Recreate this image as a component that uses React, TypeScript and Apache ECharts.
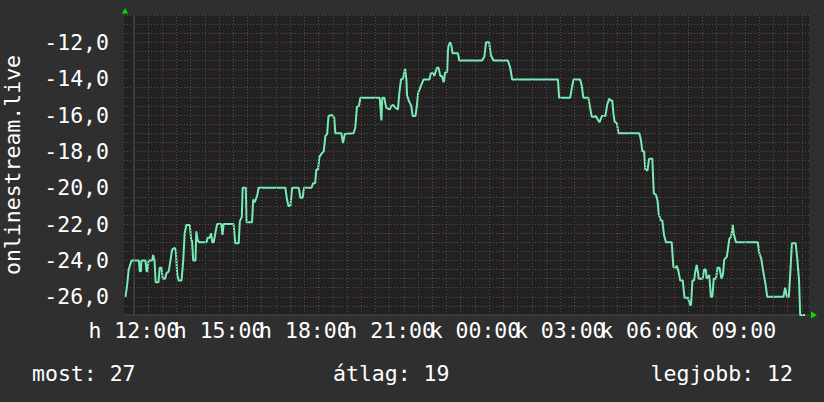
import React, { useEffect, useRef } from "react";
import * as echarts from "echarts";

// time in hours after 12:00 (day "h"), value
const points: [number, number][] = [
  [-0.29, -26], [-0.23, -25.3], [-0.18, -24.5], [-0.08, -24], [0.18, -24], [0.21, -24.6], [0.25, -24.6], [0.27, -24],
  [0.41, -24], [0.45, -24.6], [0.48, -24.6], [0.52, -24], [0.65, -24], [0.68, -23.7], [0.73, -24], [0.77, -25.2],
  [0.87, -25.2], [0.91, -24.4], [0.97, -24.4], [1.02, -25], [1.1, -25], [1.15, -24.7], [1.23, -24.6], [1.29, -24],
  [1.35, -23.4], [1.44, -23.3], [1.48, -23.5], [1.53, -24.8], [1.58, -25.1], [1.68, -25.1], [1.74, -24], [1.79, -22.5],
  [1.85, -22.05], [1.97, -22.05], [2.02, -22.9], [2.05, -22.9], [2.09, -24], [2.17, -24], [2.2, -22.4], [2.25, -22.9],
  [2.3, -23], [2.56, -23], [2.6, -22.75], [2.67, -22.75], [2.72, -22.5], [2.76, -23], [2.81, -23], [2.87, -22.5],
  [2.93, -22], [3.08, -22], [3.12, -22.6], [3.16, -22], [3.51, -22], [3.57, -23.05], [3.69, -23.05], [3.73, -21.85],
  [3.8, -21.6], [3.83, -20], [3.94, -20], [3.97, -21.9], [4.16, -21.9], [4.2, -20.65], [4.25, -20.8], [4.34, -20.45],
  [4.39, -20], [5.33, -20], [5.39, -20.65], [5.44, -21], [5.51, -21], [5.57, -20], [5.8, -20], [5.86, -20.55],
  [5.94, -20.55], [5.99, -20], [6.25, -20], [6.31, -19.75], [6.38, -19.75], [6.42, -19], [6.48, -19], [6.53, -18.3],
  [6.62, -18.1], [6.68, -18], [6.74, -17.15], [6.8, -17.05], [6.85, -16.05], [6.97, -16], [7.05, -16.15], [7.09, -17],
  [7.3, -17], [7.36, -17.55], [7.42, -17.05], [7.73, -17], [7.79, -16.7], [7.85, -15.55], [7.92, -15.5], [7.97, -15.05],
  [8.65, -15.05], [8.71, -16.3], [8.74, -15.05], [8.81, -15.05], [8.88, -15.6], [9.0, -15.7], [9.06, -15.5], [9.13, -15.45],
  [9.2, -15.6], [9.29, -15.7], [9.34, -14.8], [9.4, -14.05], [9.47, -14], [9.54, -13.45], [9.59, -14.05], [9.61, -14.9],
  [9.67, -15.2], [9.76, -15.5], [9.81, -16.05], [9.91, -16.05], [9.96, -15.45], [10.0, -14.8], [10.05, -14.6], [10.1, -14.4],
  [10.19, -14.05], [10.4, -14.05], [10.45, -13.7], [10.52, -13.7], [10.57, -13.85], [10.62, -13.6], [10.66, -13.4], [10.72, -13.4],
  [10.78, -13.85], [10.84, -13.85], [10.9, -14.2], [10.95, -13.65], [11.02, -13.65], [11.05, -12.5], [11.07, -12.2], [11.13, -12],
  [11.18, -12.25], [11.21, -12.6], [11.4, -12.6], [11.45, -13], [12.25, -13], [12.33, -12.8], [12.39, -12], [12.5, -12],
  [12.56, -12.7], [12.65, -13], [13.16, -13], [13.24, -13.4], [13.31, -14.05], [14.92, -14.05], [14.96, -15.05], [15.35, -15.05],
  [15.42, -14.4], [15.47, -14.05], [15.7, -14.05], [15.76, -14.4], [15.81, -15.05], [15.99, -15.05], [16.05, -15.6], [16.11, -16.1],
  [16.2, -16.1], [16.25, -16.05], [16.32, -16.25], [16.38, -16.4], [16.43, -16.2], [16.47, -16.05], [16.59, -16.05], [16.65, -15.45],
  [16.72, -15.1], [16.76, -15.2], [16.83, -15.2], [16.87, -15.9], [16.91, -16.35], [16.99, -16.45], [17.05, -17], [17.78, -17],
  [17.83, -17.3], [17.89, -18], [17.95, -18], [17.99, -19], [18.07, -19.05], [18.12, -18.45], [18.14, -18.4], [18.24, -18.4],
  [18.29, -20.3], [18.37, -20.4], [18.42, -20.7], [18.47, -21.5], [18.54, -21.8], [18.59, -21.8], [18.65, -22.6], [18.72, -23],
  [18.92, -23], [18.98, -24.35], [19.04, -24.4], [19.1, -24.3], [19.16, -24.6], [19.22, -25.1], [19.31, -25.1], [19.37, -26.05],
  [19.49, -26.05], [19.57, -26.45], [19.6, -26.45], [19.65, -25.1], [19.71, -25.1], [19.74, -24.7], [19.8, -24.25], [19.85, -24.7],
  [19.87, -25], [20.01, -25], [20.06, -24.5], [20.12, -24.5], [20.15, -25], [20.24, -24.8], [20.3, -26], [20.35, -26],
  [20.4, -25], [20.48, -25], [20.53, -24.4], [20.6, -24.4], [20.67, -25], [20.72, -24.8], [20.77, -23.95], [20.86, -23.8],
  [20.95, -22.8], [21.01, -22.7], [21.07, -22.05], [21.1, -22.5], [21.18, -23], [21.95, -23], [22.0, -23.6], [22.07, -23.9],
  [22.14, -24.6], [22.23, -25.4], [22.28, -26], [22.85, -26], [22.91, -25.5], [22.97, -26], [23.04, -26], [23.08, -25],
  [23.15, -23.05], [23.28, -23.05], [23.34, -23.95], [23.4, -25.1], [23.44, -27], [23.61, -27],
];

const yTickLabels = [-26, -24, -22, -20, -18, -16, -14, -12];
const xLabelHoursA = [0, 6, 12, 18];
const xLabelHoursB = [3, 9, 15, 21];
const dayNames = ["h", "k"];
const footerLabels = ["most", "átlag", "legjobb"];
const footerValues = [27, 19, 12];
const axisName = "onlinestream.live";

const X_MIN = -0.344;
const X_MAX = 23.75;
const Y_MIN = -27;
const Y_MAX = -10.5;

const FONT = "DejaVu Sans Mono";
const FS = 21.5;
const GRID_MINOR = "#505050";
const GRID_MAJOR = "#733b3b";

export default function App() {
  const ref = useRef<HTMLDivElement>(null);

  useEffect(() => {
    if (!ref.current) return;
    const chart = echarts.init(ref.current, null, { renderer: "svg" });

    const xMinor: number[] = [];
    const xMajor: number[] = [];
    for (let k = 0; k * 0.5 <= X_MAX; k++) {
      if (k % 2 === 0) xMajor.push(k * 0.5);
      else xMinor.push(k * 0.5);
    }
    const yMinor: number[] = [];
    for (let k = 0; Y_MIN + k * 0.5 <= Y_MAX; k++) {
      const v = Y_MIN + k * 0.5;
      if (!yTickLabels.includes(v)) yMinor.push(v);
    }

    const hourLabel = (v: number) => {
      const h = Math.round(v);
      const day = dayNames[Math.floor((12 + h) / 24)];
      const hh = String((12 + h) % 24).padStart(2, "0");
      return `${day} ${hh}:00`;
    };

    const dotted = [1, 2];

    const vLines = (vals: number[], color: string) =>
      vals.map((v) => ({ xAxis: v, lineStyle: { color, type: dotted, width: 1 } }));

    const labelAxis = (vals: number[]) => ({
      type: "value",
      min: X_MIN,
      max: X_MAX,
      position: "bottom",
      axisLine: { show: false },
      axisTick: { show: false },
      axisLabel: {
        show: true,
        customValues: vals,
        showMinLabel: true,
        showMaxLabel: true,
        hideOverlap: false,
        formatter: hourLabel,
        color: "#ffffff",
        fontFamily: FONT,
        fontSize: FS,
        margin: 15,
        verticalAlign: "middle",
      },
      splitLine: { show: false },
    });

    chart.setOption({
      animation: false,
      backgroundColor: "#2f2f2f",
      textStyle: { fontFamily: FONT },
      grid: {
        left: 124,
        top: 15,
        right: 15,
        bottom: 87,
        containLabel: false,
        outerBoundsMode: "none",
        show: true,
        z: -1,
        backgroundColor: "#212121",
        borderWidth: 0,
      },
      xAxis: [
        {
          type: "value",
          min: X_MIN,
          max: X_MAX,
          position: "bottom",
          axisLine: { show: true, lineStyle: { color: "#393939", width: 2 } },
          axisTick: { show: false },
          axisLabel: { show: false },
          splitLine: { show: false },
        },
        labelAxis(xLabelHoursA),
        labelAxis(xLabelHoursB),
      ],
      yAxis: [
        {
          type: "value",
          min: Y_MIN,
          max: Y_MAX,
          position: "left",
          axisLine: { show: true, lineStyle: { color: "#393939", width: 2 } },
          axisTick: { show: false, customValues: yMinor },
          axisLabel: { show: false },
          splitLine: { show: true, lineStyle: { color: GRID_MINOR, type: dotted, width: 1 } },
          name: axisName,
          nameLocation: "middle",
          nameRotate: 90,
          nameGap: 104,
          nameTextStyle: { color: "#ffffff", fontFamily: FONT, fontSize: FS, lineHeight: 16 },
        },
        {
          type: "value",
          min: Y_MIN,
          max: Y_MAX,
          position: "left",
          axisLine: { show: false },
          axisTick: { show: false, customValues: yTickLabels },
          axisLabel: {
            show: true,
            customValues: yTickLabels,
            showMinLabel: true,
            showMaxLabel: true,
            formatter: (v: number) => v.toFixed(1).replace(".", ","),
            color: "#ffffff",
            fontFamily: FONT,
            fontSize: FS,
            margin: 15,
          },
          splitLine: { show: true, lineStyle: { color: GRID_MAJOR, type: dotted, width: 1 } },
        },
      ],
      graphic: [
        {
          type: "polygon",
          shape: { points: [[122, 13.5], [128, 13.5], [125, 8]] },
          style: { fill: "#00dd00" },
        },
        {
          type: "polygon",
          shape: { points: [[811, 311.5], [811, 318.5], [817, 315]] },
          style: { fill: "#00dd00" },
        },
        {
          type: "text",
          left: 32,
          top: 362,
          style: { text: `${footerLabels[0]}: ${footerValues[0]}`, fill: "#ffffff", font: `${FS}px "${FONT}"` },
        },
        {
          type: "text",
          left: 333,
          top: 362,
          style: { text: `${footerLabels[1]}: ${footerValues[1]}`, fill: "#ffffff", font: `${FS}px "${FONT}"` },
        },
        {
          type: "text",
          right: 31,
          top: 362,
          style: { text: `${footerLabels[2]}: ${footerValues[2]}`, fill: "#ffffff", font: `${FS}px "${FONT}"` },
        },
      ],
      series: [
        {
          type: "line",
          name: "grid",
          xAxisIndex: 0,
          yAxisIndex: 0,
          data: [],
          z: 1,
          silent: true,
          markLine: {
            silent: true,
            symbol: ["none", "none"],
            label: { show: false },
            animation: false,
            data: [...vLines(xMinor, GRID_MINOR), ...vLines(xMajor, GRID_MAJOR)],
          },
        },
        {
          type: "line",
          xAxisIndex: 0,
          yAxisIndex: 0,
          data: points,
          z: 3,
          showSymbol: false,
          symbol: "none",
          lineStyle: { color: "#78eab4", width: 2 },
          clip: true,
        },
      ],
    });

    return () => chart.dispose();
  }, []);

  return (
    <div
      ref={ref}
      style={{ position: "fixed", left: 0, top: 0, width: 824, height: 402 }}
    />
  );
}
